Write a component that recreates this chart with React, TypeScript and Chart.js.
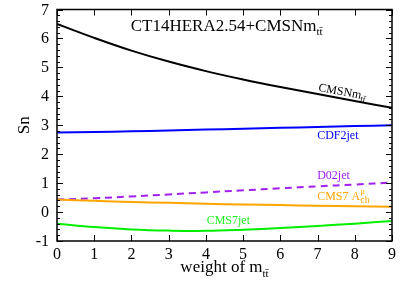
import React, { useEffect, useRef } from "react";
import { Chart, registerables } from "chart.js";

Chart.register(...registerables);

// ---- data ----
const weights = [0, 1, 2, 3, 4, 5, 6, 7, 8, 9];
const cmsnMtt = [6.5, 6.02, 5.58, 5.2, 4.87, 4.58, 4.32, 4.08, 3.84, 3.6];
const cdf2jet = [2.75, 2.77, 2.79, 2.82, 2.85, 2.88, 2.91, 2.94, 2.97, 3.0];
const d02jet = [0.43, 0.48, 0.54, 0.61, 0.68, 0.75, 0.82, 0.89, 0.95, 1.02];
const cms7Ach = [0.43, 0.39, 0.35, 0.32, 0.29, 0.26, 0.24, 0.22, 0.2, 0.18];
const cms7jet = [-0.4, -0.52, -0.6, -0.64, -0.65, -0.61, -0.55, -0.48, -0.4, -0.31];

const xTickValues = [0, 1, 2, 3, 4, 5, 6, 7, 8, 9];
const yTickValues = [-1, 0, 1, 2, 3, 4, 5, 6, 7];

const SERIF = "'Liberation Serif', 'Times New Roman', serif";

const COLORS = {
  cmsn: "#000000",
  cdf: "#0000ff",
  d0: "#a020f0",
  ach: "#ffa500",
  cms7: "#00ee00",
};

type Run = { t: string; size: number; dy: number; sameX?: boolean };

function drawRuns(ctx: CanvasRenderingContext2D, runs: Run[], x: number, y: number) {
  let cx = x;
  let lastX = x;
  let maxW = 0;
  for (const r of runs) {
    ctx.font = `${r.size}px ${SERIF}`;
    const w = ctx.measureText(r.t).width;
    if (r.sameX) {
      ctx.fillText(r.t, lastX, y + r.dy);
      maxW = Math.max(maxW, w);
      cx = lastX + maxW;
    } else {
      lastX = cx;
      maxW = w;
      ctx.fillText(r.t, cx, y + r.dy);
      cx += w;
    }
  }
  return cx;
}

function measureRuns(ctx: CanvasRenderingContext2D, runs: Run[]) {
  let w = 0;
  for (const r of runs) {
    ctx.font = `${r.size}px ${SERIF}`;
    if (!r.sameX) w += ctx.measureText(r.t).width;
  }
  return w;
}

const decorPlugin = {
  id: "decor",
  afterDraw(chart: any) {
    const ctx: CanvasRenderingContext2D = chart.ctx;
    const { left, right, top, bottom } = chart.chartArea;
    const xs = chart.scales.x;
    const ys = chart.scales.y;
    ctx.save();

    // tick labels (serif)
    ctx.fillStyle = "#000";
    ctx.font = `16px ${SERIF}`;
    ctx.textAlign = "center";
    ctx.textBaseline = "alphabetic";
    for (const v of xTickValues) {
      ctx.fillText(String(v), xs.getPixelForValue(v), bottom + 18);
    }
    ctx.textAlign = "right";
    for (const v of yTickValues) {
      ctx.fillText(String(v), left - 8, ys.getPixelForValue(v) + 5);
    }

    // ticks pointing inward
    ctx.strokeStyle = "#000";
    ctx.lineWidth = 1;
    ctx.beginPath();
    for (const v of xTickValues) {
      const px = Math.round(xs.getPixelForValue(v)) + 0.5;
      ctx.moveTo(px, bottom);
      ctx.lineTo(px, bottom - 6);
      ctx.moveTo(px, top);
      ctx.lineTo(px, top + 6);
    }
    for (let i = 0; i < yTickValues.length; i++) {
      const v = yTickValues[i];
      const py = Math.round(ys.getPixelForValue(v)) + 0.5;
      ctx.moveTo(left, py);
      ctx.lineTo(left + 6, py);
      ctx.moveTo(right, py);
      ctx.lineTo(right - 6, py);
      if (i < yTickValues.length - 1) {
        for (let k = 1; k < 5; k++) {
          const pm = Math.round(ys.getPixelForValue(v + k * 0.2)) + 0.5;
          ctx.moveTo(left, pm);
          ctx.lineTo(left + 3, pm);
          ctx.moveTo(right, pm);
          ctx.lineTo(right - 3, pm);
        }
      }
    }
    ctx.stroke();

    // frame
    ctx.lineWidth = 1.5;
    ctx.strokeRect(left, top, right - left, bottom - top);

    ctx.textBaseline = "alphabetic";
    ctx.textAlign = "left";

    // title
    ctx.fillStyle = "#000";
    drawRuns(
      ctx,
      [
        { t: "CT14HERA2.54+CMSNm", size: 17, dy: 0 },
        { t: "tt\u0304", size: 11, dy: 4 },
      ],
      xs.getPixelForValue(1.98),
      ys.getPixelForValue(6.25)
    );

    // curve labels
    ctx.save();
    ctx.translate(xs.getPixelForValue(7.01), ys.getPixelForValue(4.18));
    ctx.rotate((10 * Math.PI) / 180);
    ctx.fillStyle = COLORS.cmsn;
    drawRuns(
      ctx,
      [
        { t: "CMSNm", size: 12, dy: 0 },
        { t: "tt\u0304", size: 9, dy: 3 },
      ],
      0,
      0
    );
    ctx.restore();

    ctx.fillStyle = COLORS.cdf;
    drawRuns(ctx, [{ t: "CDF2jet", size: 12, dy: 0 }], xs.getPixelForValue(6.99), ys.getPixelForValue(2.54));

    ctx.fillStyle = COLORS.d0;
    drawRuns(ctx, [{ t: "D02jet", size: 12, dy: 0 }], xs.getPixelForValue(6.99), ys.getPixelForValue(1.13));

    ctx.fillStyle = COLORS.ach;
    drawRuns(
      ctx,
      [
        { t: "CMS7 A", size: 12, dy: 0 },
        { t: "\u03bc", size: 9, dy: -6 },
        { t: "ch", size: 10, dy: 3, sameX: true },
      ],
      xs.getPixelForValue(6.99),
      ys.getPixelForValue(0.43)
    );

    ctx.fillStyle = "#22ee22";
    drawRuns(ctx, [{ t: "CMS7jet", size: 12, dy: 0 }], xs.getPixelForValue(4.02), ys.getPixelForValue(-0.42));

    // axis titles
    ctx.fillStyle = "#000";
    const xRuns: Run[] = [
      { t: "weight of m", size: 17, dy: 0 },
      { t: "tt\u0304", size: 11, dy: 5 },
    ];
    const wX = measureRuns(ctx, xRuns);
    drawRuns(ctx, xRuns, (left + right) / 2 - wX / 2, 272);

    ctx.save();
    ctx.translate(29, (top + bottom) / 2);
    ctx.rotate(-Math.PI / 2);
    ctx.textAlign = "center";
    ctx.font = `17px ${SERIF}`;
    ctx.fillText("Sn", 0, 0);
    ctx.restore();

    ctx.restore();
  },
};

export default function App() {
  const canvasRef = useRef<HTMLCanvasElement | null>(null);

  useEffect(() => {
    if (!canvasRef.current) return;
    const mk = (data: number[]) => weights.map((w, i) => ({ x: w, y: data[i] }));
    const base = {
      pointRadius: 0,
      borderWidth: 2,
      fill: false,
      tension: 0.4,
    };
    const chart = new Chart(canvasRef.current, {
      type: "line",
      data: {
        datasets: [
          { ...base, label: "CMSNmtt", data: mk(cmsnMtt), borderColor: COLORS.cmsn },
          { ...base, label: "CDF2jet", data: mk(cdf2jet), borderColor: COLORS.cdf },
          { ...base, label: "CMS7jet", data: mk(cms7jet), borderColor: COLORS.cms7 },
          { ...base, label: "CMS7 Ach", data: mk(cms7Ach), borderColor: COLORS.ach },
          { ...base, label: "D02jet", data: mk(d02jet), borderColor: COLORS.d0, borderDash: [7, 5] },
        ],
      },
      options: {
        responsive: false,
        animation: false,
        layout: { padding: { top: 9.5, right: 15, left: 0, bottom: 0 } },
        plugins: { legend: { display: false }, tooltip: { enabled: false }, title: { display: false } },
        scales: {
          x: {
            type: "linear",
            min: 0,
            max: 9,
            afterBuildTicks: (s: any) => {
              s.ticks = xTickValues.map((v) => ({ value: v }));
            },
            afterFit: (s: any) => {
              s.height = 44;
            },
            ticks: { display: false },
            grid: { display: false, drawTicks: false },
            border: { display: false },
          },
          y: {
            type: "linear",
            min: -1,
            max: 7,
            afterBuildTicks: (s: any) => {
              s.ticks = yTickValues.map((v) => ({ value: v }));
            },
            afterFit: (s: any) => {
              s.width = 57;
            },
            ticks: { display: false },
            grid: { display: false, drawTicks: false },
            border: { display: false },
          },
        },
      },
      plugins: [decorPlugin],
    });
    return () => chart.destroy();
  }, []);

  return (
    <div style={{ position: "fixed", left: 0, top: 0, width: 407, height: 285, background: "#fff" }}>
      <canvas ref={canvasRef} width={407} height={285} style={{ width: 407, height: 285, display: "block" }} />
    </div>
  );
}
